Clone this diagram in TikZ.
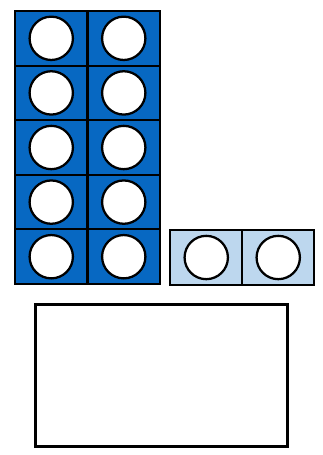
\documentclass[tikz,border=0pt]{standalone}
\usepackage{xcolor}
\usepackage{tikz}
\usetikzlibrary{positioning}
\definecolor{tenblue}{HTML}{0768C2}
\definecolor{oneblue}{HTML}{BDD7EE}

\begin{document}
\begin{tikzpicture}[
  x=0.75pt, y=-0.75pt,
  bluecell/.style={draw=black, fill=tenblue, line width=1.6pt,
                   minimum width=54.4pt, minimum height=41pt, inner sep=0pt, outer sep=0pt},
  palecell/.style={draw=black, fill=oneblue, line width=1.6pt,
                   minimum width=54pt, minimum height=41.2pt, inner sep=0pt, outer sep=0pt},
  counter/.style={circle, draw=black, fill=white, line width=1.7pt,
                  minimum size=32.5pt, inner sep=0pt},
  answerbox/.style={draw=black, fill=white, line width=2.3pt,
                    minimum width=189.5pt, minimum height=107pt, inner sep=0pt}
]
  \useasboundingbox (0,0) rectangle (323,455);

  % Ten frame, two columns of five.
  \foreach \r in {1,...,5} {
    \node[bluecell] (ten-\r-1) at (51.25, {11+54.6*(\r-0.5)}) {};
    \node[bluecell] (ten-\r-2) at (123.75, {11+54.6*(\r-0.5)}) {};
    \node[counter] (dot-\r-1) at (ten-\r-1) {};
    \node[counter] (dot-\r-2) at (ten-\r-2) {};
  }

  % Two ones.
  \node[palecell] (one-1) at (206.25,257.5) {};
  \node[palecell] (one-2) at (278.25,257.5) {};
  \node[counter] (odot-1) at (one-1) {};
  \node[counter] (odot-2) at (one-2) {};

  % Empty answer box.
  \node[answerbox] (answer) at (161.5,375.5) {};
\end{tikzpicture}
\end{document}
